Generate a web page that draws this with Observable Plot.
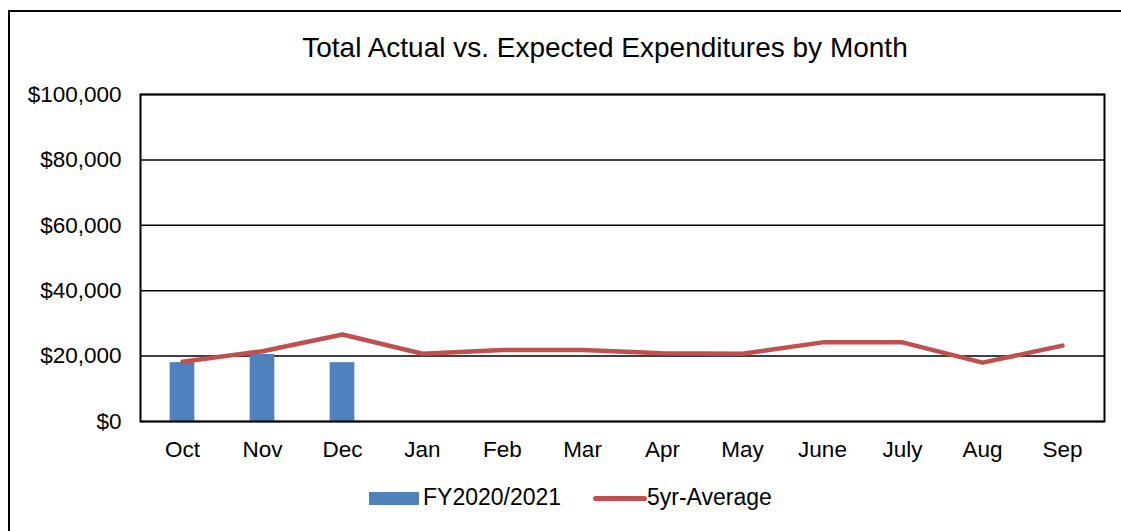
<!DOCTYPE html>
<html>
<head>
<meta charset="utf-8">
<script src="https://cdn.jsdelivr.net/npm/d3@7"></script>
<script src="https://cdn.jsdelivr.net/npm/@observablehq/plot@0.6"></script>
<style>
  html, body { margin: 0; padding: 0; background: #fff; }
  body { width: 1121px; height: 531px; overflow: hidden; position: relative; font-family: "Liberation Sans", Arial, sans-serif; }
  #frame { position: absolute; left: 8px; top: 10px; width: 1130px; height: 540px; border: 2px solid #000; box-sizing: border-box; }
  #title { position: absolute; left: 0; width: 1210px; top: 34px; line-height: 28px; text-align: center; font-size: 28px; color: #000; }
  #chart { position: absolute; left: 0; top: 70px; }
  #legend { position: absolute; top: 484px; left: 0; width: 1121px; height: 28px; font-size: 23px; color: #000; }
  .sw { position: absolute; }
  .lab { position: absolute; top: 0; }
</style>
</head>
<body>
<div id="frame"></div>
<div id="title">Total Actual vs. Expected Expenditures by Month</div>
<div id="chart"></div>
<div id="legend">
  <div class="sw" style="left:369px; top:8px; width:50px; height:13px; background:#4F81BD;"></div>
  <div class="lab" style="left:423px;">FY2020/2021</div>
  <div class="sw" style="left:593px; top:12px; width:54px; height:5px; border-radius:3px; background:#C0504D;"></div>
  <div class="lab" style="left:647px;">5yr-Average</div>
</div>
<script>
const months = ["Oct","Nov","Dec","Jan","Feb","Mar","Apr","May","June","July","Aug","Sep"];
const actualMonths = ["Oct","Nov","Dec"];
const actualValues = [18000, 20500, 18000];
const averageValues = [18300, 21500, 26600, 20700, 21900, 21900, 20900, 20700, 24200, 24200, 18000, 23200];
const yTicks = [0, 20000, 40000, 60000, 80000, 100000];

const actual = actualMonths.map((m, i) => ({month: m, value: actualValues[i]}));
const average = months.map((m, i) => ({month: m, value: averageValues[i]}));

const W = 1121, H = 390;
const left = 140, right = 1104;
const bandW = (right - left) / months.length;
const inset = (bandW - 25) / 2;

const chart = Plot.plot({
  width: W,
  height: H,
  marginLeft: left,
  marginRight: W - right,
  marginTop: 24,
  marginBottom: 39,
  style: {fontFamily: "'Liberation Sans', Arial, sans-serif", fontSize: "22.5px", color: "#000", background: "transparent", overflow: "visible"},
  x: {domain: months, padding: 0, label: null, tickSize: 0, tickPadding: 20},
  y: {domain: [0, 100000], ticks: yTicks, label: null, tickSize: 0, tickPadding: 19,
      tickFormat: d => "$" + d3.format(",")(d)},
  marks: [
    Plot.ruleY(yTicks, {stroke: "#000", strokeWidth: 1.5}),
    Plot.barY(actual, {x: "month", y: "value", fill: "#4F81BD", insetLeft: inset, insetRight: inset}),
    Plot.line(average, {x: "month", y: "value", stroke: "#C0504D", strokeWidth: 4.5, strokeLinecap: "round", strokeLinejoin: "round"}),
    Plot.frame({stroke: "#000", strokeWidth: 2})
  ]
});
document.getElementById("chart").appendChild(chart);
</script>
</body>
</html>
